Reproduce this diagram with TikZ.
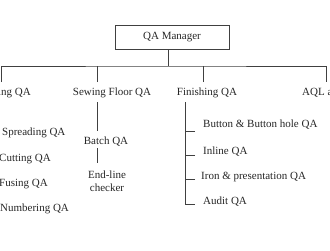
\documentclass[tikz,border=0pt]{standalone}
\usepackage{fontspec}
\setmainfont{Liberation Serif}
\begin{document}
\begin{tikzpicture}[x=1pt,y=-1pt,
  lbl/.style={inner sep=0pt,font=\fontsize{11}{13}\selectfont,text=black!85},
  ln/.style={draw=black!75,line width=0.7pt}]
\useasboundingbox (0,0) rectangle (330,250);
% manager box
\node[lbl,draw=black!75,line width=0.7pt,minimum width=114pt,minimum height=24pt] (mgr) at (172,37.5) {QA Manager};
\coordinate (hub) at (168,66);
% level 1 labels
\node[lbl,anchor=east] (cut) at (31,93) {Cutting QA};
\node[lbl] (sew) at (112,93) {Sewing Floor QA};
\node[lbl] (fin) at (207,93) {Finishing QA};
\node[lbl,anchor=west] (aql) at (302,93) {AQL audit};
\coordinate (dA) at (1,82);
\coordinate (dB) at (97,82);
\coordinate (dC) at (203,82);
\coordinate (dD) at (326,82);
\draw[ln] (mgr.south -| hub) -- (hub);
\draw[ln] (dA) |- (hub) -| (dD);
\draw[ln] (dB) -- (dB |- hub);
\draw[ln] (dC) -- (dC |- hub);
% cutting sub-items
\node[lbl,anchor=west] (spr) at (2,133) {Spreading QA};
\node[lbl,anchor=west] (ctt) at (-1,159) {Cutting QA};
\node[lbl,anchor=west] (fus) at (-1,184) {Fusing QA};
\node[lbl,anchor=west] (num) at (0,209) {Numbering QA};
% sewing sub-items
\node[lbl] (bat) at (106,142) {Batch QA};
\node[lbl,align=center] (end) at (107,181) {End-line\\checker};
\coordinate (s1) at (97,102);
\coordinate (s2) at (97,131);
\coordinate (s3) at (97,148);
\coordinate (s4) at (97,163);
\draw[ln] (s1) -- (s2);
\draw[ln] (s3) -- (s4);
% finishing sub-items
\node[lbl,anchor=west] (btn) at (203,125) {Button \& Button hole QA};
\node[lbl,anchor=west] (inl) at (203,152) {Inline QA};
\node[lbl,anchor=west] (irn) at (201,177) {Iron \& presentation QA};
\node[lbl,anchor=west] (aud) at (203,202) {Audit QA};
\coordinate (f0) at (185,102);
\coordinate (t1) at (195,131);
\coordinate (t2) at (195,155);
\coordinate (t3) at (195,179);
\coordinate (t4) at (195,204);
\draw[ln] (f0) |- (t4);
\draw[ln] (t1) -- (t1 -| f0);
\draw[ln] (t2) -- (t2 -| f0);
\draw[ln] (t3) -- (t3 -| f0);
\end{tikzpicture}
\end{document}
